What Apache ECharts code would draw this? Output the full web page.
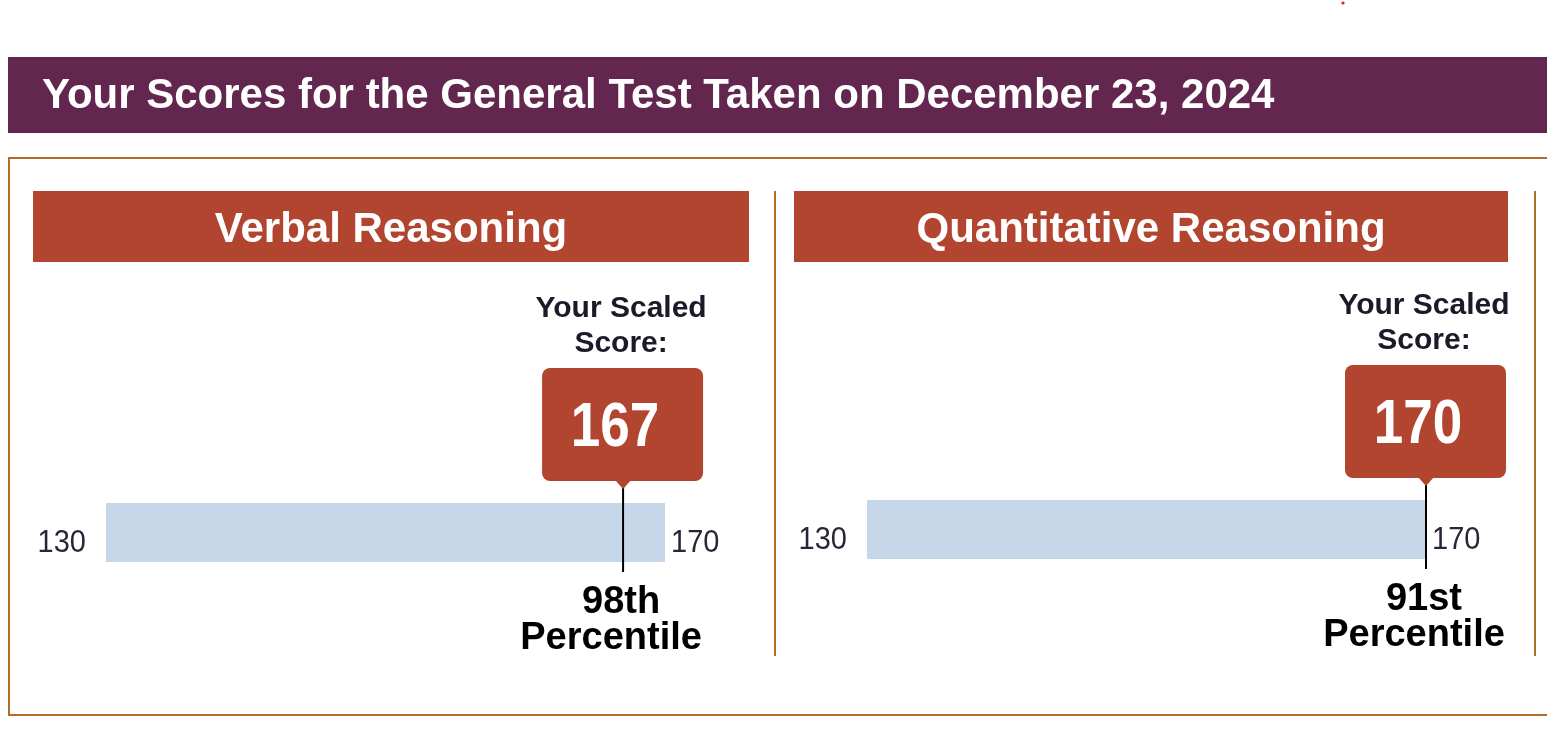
<!DOCTYPE html>
<html>
<head>
<meta charset="utf-8">
<script src="https://cdn.jsdelivr.net/npm/echarts@6/dist/echarts.min.js"></script>
<style>
html,body{margin:0;padding:0;background:#fff;}
#chart{width:1547px;height:755px;}
</style>
</head>
<body>
<div id="chart"></div>
<script>
const pageTitle = 'Your Scores for the General Test Taken on December 23, 2024';
const sections = ['Verbal Reasoning', 'Quantitative Reasoning'];
const scaleMin = [130, 130];
const scaleMax = [170, 170];
const scores = [167, 170];
const percentiles = ['98th', '91st'];
const scoreCaption = ['Your Scaled', 'Score:'];
const percentileWord = 'Percentile';

const FONT = '"Liberation Sans", Arial, sans-serif';
const PURPLE = '#63264f';
const RUST = '#b1452f';
const BLUE = '#c5d7e9';
const BROWN = '#b06c28';
const INK = '#1b1a28';

const chart = echarts.init(document.getElementById('chart'), null, {renderer: 'canvas'});

const grids = [
  {left: 106, top: 503, width: 559, height: 59},
  {left: 867, top: 500, width: 559, height: 59}
];

function renderPanel(params, api) {
  const i = params.seriesIndex;
  const lo = api.value(0), hi = api.value(1), s = api.value(2);
  const p0 = api.coord([lo, 1]);
  const p1 = api.coord([hi, 0]);
  const mx = api.coord([s, 0])[0];
  const top = p0[1], bot = p1[1];
  const children = [
    {type: 'rect', shape: {x: p0[0], y: top, width: p1[0] - p0[0], height: bot - top}, style: {fill: BLUE}},
    {type: 'text', x: p0[0] - 20, y: bot - 19, scaleY: 1.1, style: {x: 0, y: 0, text: String(lo), font: '29px ' + FONT, fill: '#2a2536', align: 'right', verticalAlign: 'middle'}},
    {type: 'text', x: p1[0] + 6, y: bot - 19, scaleY: 1.1, style: {x: 0, y: 0, text: String(hi), font: '29px ' + FONT, fill: '#2a2536', align: 'left', verticalAlign: 'middle'}},
    {type: 'line', shape: {x1: mx, y1: top - 16, x2: mx, y2: bot + 10}, style: {stroke: '#000', lineWidth: 2}},
    {type: 'rect', shape: {x: mx - 81, y: top - 135, width: 161, height: 113, r: 8}, style: {fill: RUST}},
    {type: 'polygon', shape: {points: [[mx - 8, top - 23], [mx + 8, top - 23], [mx, top - 14]]}, style: {fill: RUST}},
    {type: 'text', x: mx - 8, y: top - 74, scaleY: 1.18,
      style: {x: 0, y: 0, text: String(s), font: 'bold 53px ' + FONT, fill: '#fff', align: 'center', verticalAlign: 'middle'}},
    {type: 'text', style: {x: mx - 2, y: top - 194, text: scoreCaption[0], font: 'bold 30px ' + FONT, fill: INK, align: 'center', verticalAlign: 'middle'}},
    {type: 'text', style: {x: mx - 2, y: top - 159, text: scoreCaption[1], font: 'bold 30px ' + FONT, fill: INK, align: 'center', verticalAlign: 'middle'}},
    {type: 'text', style: {x: mx - 2, y: bot + 41, text: percentiles[i], font: 'bold 38px ' + FONT, fill: '#000', align: 'center', verticalAlign: 'middle'}},
    {type: 'text', style: {x: mx - 12, y: bot + 77, text: percentileWord, font: 'bold 38px ' + FONT, fill: '#000', align: 'center', verticalAlign: 'middle'}}
  ];
  return {type: 'group', children: children};
}

const headerBoxes = [
  {x: 33, w: 716},
  {x: 794, w: 714}
];

const graphics = [
  {type: 'circle', shape: {cx: 1343, cy: 3, r: 1.6}, style: {fill: '#e02020'}},
  {type: 'rect', shape: {x: 8, y: 57, width: 1560, height: 76}, style: {fill: PURPLE}},
  {type: 'text', style: {x: 42, y: 96, text: pageTitle, font: 'bold 42px ' + FONT, fill: '#fff', align: 'left', verticalAlign: 'middle'}},
  {type: 'rect', shape: {x: 9, y: 158, width: 1600, height: 557}, style: {fill: 'none', stroke: BROWN, lineWidth: 2}},
  {type: 'line', shape: {x1: 775, y1: 191, x2: 775, y2: 656}, style: {stroke: BROWN, lineWidth: 2}},
  {type: 'line', shape: {x1: 1535, y1: 191, x2: 1535, y2: 656}, style: {stroke: BROWN, lineWidth: 2}}
];
sections.forEach((name, i) => {
  const b = headerBoxes[i];
  graphics.push({type: 'rect', shape: {x: b.x, y: 191, width: b.w, height: 71}, style: {fill: RUST}});
  graphics.push({type: 'text', style: {x: b.x + b.w / 2, y: 230, text: name, font: 'bold 42px ' + FONT, fill: '#fff', align: 'center', verticalAlign: 'middle'}});
});

chart.setOption({
  animation: false,
  backgroundColor: '#fff',
  grid: grids,
  xAxis: grids.map((g, i) => ({type: 'value', gridIndex: i, min: scaleMin[i], max: scaleMax[i], show: false})),
  yAxis: grids.map((g, i) => ({type: 'value', gridIndex: i, min: 0, max: 1, show: false})),
  series: sections.map((name, i) => ({
    type: 'custom',
    name: name,
    xAxisIndex: i,
    yAxisIndex: i,
    renderItem: renderPanel,
    data: [[scaleMin[i], scaleMax[i], scores[i]]]
  })),
  graphic: graphics
});
</script>
</body>
</html>
